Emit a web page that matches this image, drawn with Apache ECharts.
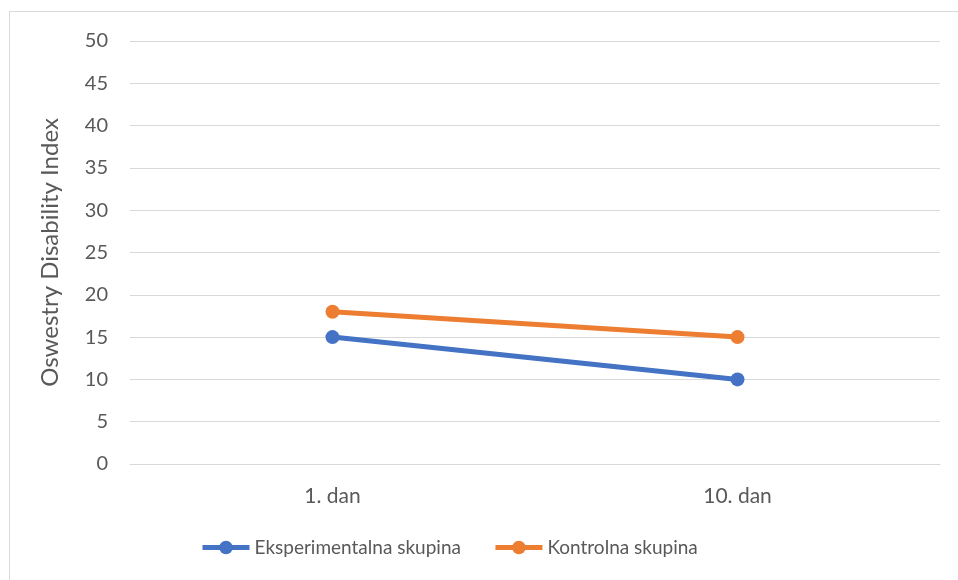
<!DOCTYPE html>
<html>
<head>
<meta charset="utf-8">
<script src="https://cdn.jsdelivr.net/npm/echarts@6/dist/echarts.min.js"></script>
<style>
  html, body { margin: 0; padding: 0; background: #fff; }
  #frame {
    position: absolute; left: 9px; top: 11px; width: 960px; height: 580px;
    border-left: 1px solid #d9d9d9; border-top: 1px solid #d9d9d9;
  }
  #chart { position: absolute; left: 0; top: 0; width: 958px; height: 580px; }
</style>
</head>
<body>
<div id="frame"></div>
<div id="chart"></div>
<script>
const categories = ['1. dan', '10. dan']
const experimental = [15, 10]
const control = [18, 15]
const yTicks = { min: 0, max: 50, interval: 5 }

const font = 'Lato, "Noto Sans", sans-serif'
const textColor = '#595959'

const chart = echarts.init(document.getElementById('chart'))
chart.setOption({
  animation: false,
  textStyle: { fontFamily: font },
  color: ['#4472C4', '#ED7D31'],
  grid: { left: 130, right: 18, top: 41, bottom: 116 },
  legend: {
    bottom: 18,
    left: 195,
    itemWidth: 47,
    itemHeight: 17,
    itemGap: 32,
    lineStyle: { width: 5 },
    textStyle: { color: textColor, fontSize: 19, fontFamily: font },
    data: ['Eksperimentalna skupina', 'Kontrolna skupina']
  },
  xAxis: {
    type: 'category',
    data: categories,
    boundaryGap: true,
    axisLine: { lineStyle: { color: '#d9d9d9', width: 1 } },
    axisTick: { show: false },
    axisLabel: { color: textColor, fontSize: 21, margin: 22 }
  },
  yAxis: {
    type: 'value',
    min: yTicks.min,
    max: yTicks.max,
    interval: yTicks.interval,
    name: 'Oswestry Disability Index',
    nameLocation: 'middle',
    nameGap: 68,
    nameTextStyle: { color: textColor, fontSize: 24 },
    axisLine: { show: false },
    axisTick: { show: false },
    axisLabel: { color: textColor, fontSize: 20, margin: 22 },
    splitLine: { lineStyle: { color: '#d9d9d9', width: 1 } }
  },
  series: [
    {
      name: 'Eksperimentalna skupina',
      type: 'line',
      data: experimental,
      symbol: 'circle',
      symbolSize: 14,
      lineStyle: { width: 5 }
    },
    {
      name: 'Kontrolna skupina',
      type: 'line',
      data: control,
      symbol: 'circle',
      symbolSize: 14,
      lineStyle: { width: 5 }
    }
  ]
})
</script>
</body>
</html>
